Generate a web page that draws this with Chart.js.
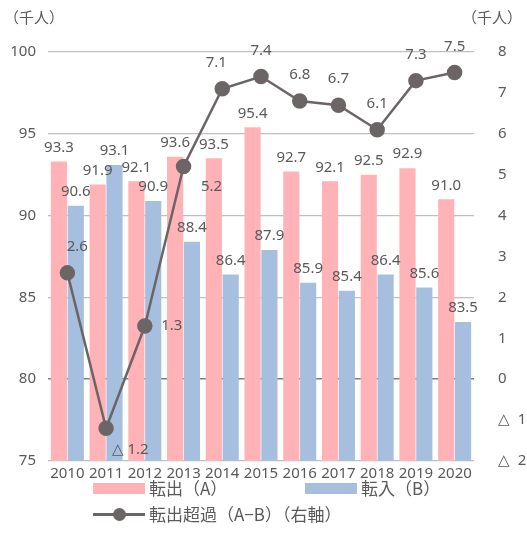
<!DOCTYPE html>
<html>
<head>
<meta charset="utf-8">
<script src="https://cdn.jsdelivr.net/npm/chart.js@4"></script>
<style>
  body { margin: 0; background: #fff; }
  #wrap { position: relative; width: 527px; height: 553px; font-family: "Noto Sans CJK JP", sans-serif; color: #595959; }
  #wrap canvas { position: absolute; left: 0; top: 0; }
  .unit { position: absolute; top: 7px; font-size: 15px; line-height: 20px; }
  .legend { position: absolute; font-size: 17px; line-height: 20px; height: 20px; display: flex; align-items: center; white-space: nowrap; }
  .box { width: 52px; height: 11px; margin-right: 4px; }
  .line { position: relative; width: 52px; height: 3px; background: #6b6566; margin-right: 4px; }
  .line::after { content: ""; position: absolute; left: 20px; top: -5px; width: 13px; height: 13px; border-radius: 50%; background: #6b6566; }
</style>
</head>
<body>
<div id="wrap">
  <canvas id="chart" width="527" height="553"></canvas>
  <div class="unit" style="left:4px">（千人）</div>
  <div class="unit" style="left:462px">（千人）</div>
  <div class="legend" style="left:93px; top:478px"><div class="box" style="background:#ffb3b6"></div>転出（A）</div>
  <div class="legend" style="left:305px; top:478px"><div class="box" style="background:#a7bfdf"></div>転入（B）</div>
  <div class="legend" style="left:93px; top:504px"><div class="line"></div>転出超過（A−B）（右軸）</div>
</div>
<script>
const years = ['2010', '2011', '2012', '2013', '2014', '2015', '2016', '2017', '2018', '2019', '2020'];
const tenshutsu = [93.3, 91.9, 92.1, 93.6, 93.5, 95.4, 92.7, 92.1, 92.5, 92.9, 91.0];
const tennyu = [90.6, 93.1, 90.9, 88.4, 86.4, 87.9, 85.9, 85.4, 86.4, 85.6, 83.5];
const choka = [2.6, -1.2, 1.3, 5.2, 7.1, 7.4, 6.8, 6.7, 6.1, 7.3, 7.5];

const labelColor = '#595959';
const tri = v => v < 0 ? '△ ' + Math.abs(v).toFixed(1) : v.toFixed(1);

// where to put each line label relative to its point
const linePos = ['top', 'below', 'right', 'rightBelow', 'top', 'top', 'top', 'top', 'top', 'top', 'top'];

const valueLabels = {
  id: 'valueLabels',
  afterDatasetsDraw(chart) {
    const ctx = chart.ctx;
    ctx.save();
    ctx.font = '15px "Noto Sans", "Liberation Sans", sans-serif';
    ctx.fillStyle = labelColor;
    ctx.textAlign = 'center';
    ctx.textBaseline = 'middle';
    chart.data.datasets.forEach((ds, di) => {
      const meta = chart.getDatasetMeta(di);
      meta.data.forEach((el, i) => {
        const v = ds.data[i];
        if (ds.type === 'line') {
          let x = el.x, y = el.y - 26;
          if (linePos[i] === 'below') { x += 24; y = el.y + 21; }
          if (linePos[i] === 'right') { x += 27; y = el.y; }
          if (linePos[i] === 'rightBelow') { x += 28; y = el.y + 20; }
          if (i === 0) x += 10;
          if (i === 4) x -= 6;
          ctx.fillText(tri(v), x, y);
        } else {
          let x = el.x;
          if (di === 0 && i === 4) x += 16;
          if (di === 0 && i === 3) x += 6;
          ctx.fillText(v.toFixed(1), x, el.y - 14);
        }
      });
    });
    ctx.restore();
  }
};

new Chart(document.getElementById('chart'), {
  data: {
    labels: years,
    datasets: [
      {
        type: 'line',
        label: '転出超過（A−B）（右軸）',
        data: choka,
        yAxisID: 'y1',
        borderColor: '#6b6566',
        backgroundColor: '#6b6566',
        borderWidth: 2.5,
        pointRadius: 6.5,
        pointHoverRadius: 6.5,
        tension: 0,
        order: 0
      },
      {
        type: 'bar',
        label: '転出（A）',
        data: tenshutsu,
        yAxisID: 'y',
        backgroundColor: '#ffb3b6',
        categoryPercentage: 0.87,
        barPercentage: 0.96,
        order: 1
      },
      {
        type: 'bar',
        label: '転入（B）',
        data: tennyu,
        yAxisID: 'y',
        backgroundColor: '#a7bfdf',
        categoryPercentage: 0.87,
        barPercentage: 0.96,
        order: 1
      }
    ]
  },
  options: {
    responsive: false,
    animation: false,
    layout: { padding: { top: 52, bottom: 68, left: 0, right: 0 } },
    plugins: {
      legend: { display: false },
      tooltip: { enabled: false }
    },
    scales: {
      x: {
        grid: { display: false },
        border: { display: false },
        ticks: { color: labelColor, font: { size: 15, family: '"Noto Sans", sans-serif' }, padding: -4, maxRotation: 0, autoSkip: false },
        afterFit(scale) { scale.height = 24; }
      },
      y: {
        position: 'left',
        min: 75,
        max: 100,
        ticks: { stepSize: 5, color: labelColor, font: { size: 15, family: '"Noto Sans", sans-serif' }, padding: 12 },
        border: { display: false },
        grid: {
          drawTicks: false,
          color: ctx => ctx.tick && ctx.tick.value === 80 ? '#7f7f7f' : '#bfbfbf',
          lineWidth: ctx => ctx.tick && ctx.tick.value === 80 ? 1.5 : 1.2
        },
        afterFit(scale) { scale.width = 48; }
      },
      y1: {
        position: 'right',
        min: -2,
        max: 8,
        ticks: {
          stepSize: 1,
          color: labelColor,
          font: { size: 15, family: '"Noto Sans", sans-serif' },
          padding: 16,
          callback: v => v < 0 ? '△  ' + Math.abs(v) : v
        },
        border: { display: false },
        grid: { display: false },
        afterFit(scale) { scale.width = 53; }
      }
    }
  },
  plugins: [valueLabels]
});
</script>
</body>
</html>
